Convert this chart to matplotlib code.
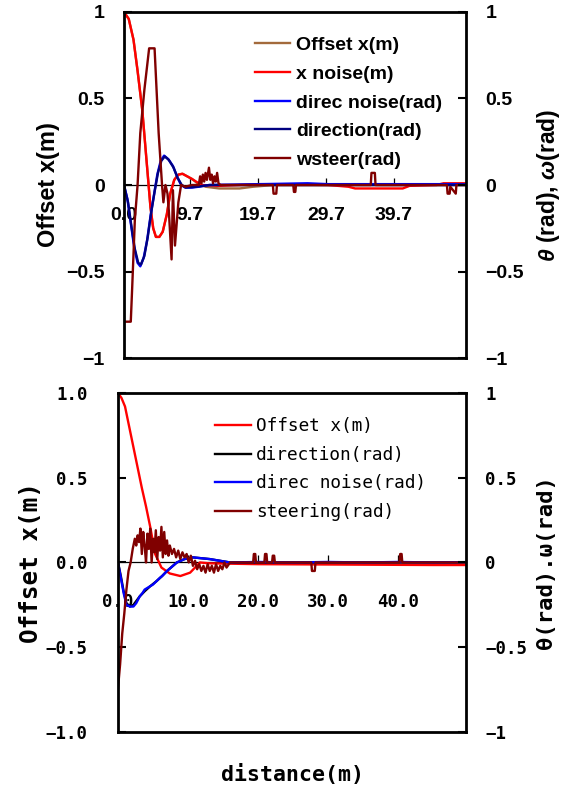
import matplotlib.pyplot as plt

plt.rcParams['mathtext.fontset'] = 'custom'
plt.rcParams['mathtext.it'] = 'Liberation Sans:italic:bold'
plt.rcParams['mathtext.rm'] = 'Liberation Sans:bold'

# ---------------- top chart data (distance in m, value) ----------------
top_xn_d = [0, 0.7, 1.4, 2.0, 2.7, 3.3, 3.9, 4.3, 4.7, 5.2, 5.7, 6.3, 6.8, 7.4, 8.0, 8.6, 9.3,
            10.0, 10.8, 11.5, 14, 20, 30, 33, 34, 41, 42, 46, 47, 50.3]
top_xn_v = [1.0, 0.96, 0.84, 0.66, 0.43, 0.15, -0.13, -0.25, -0.3, -0.3, -0.27, -0.17, -0.05,
            0.03, 0.06, 0.065, 0.05, 0.035, 0.015, 0.0, -0.005, 0.005, 0.0, -0.01, -0.02, -0.02,
            -0.005, 0.0, 0.01, 0.01]

top_off_d = [0, 0.7, 1.4, 2.0, 2.7, 3.3, 3.9, 4.3, 4.7, 5.2, 5.7, 6.3, 6.8, 7.4, 8.0, 8.6, 9.3,
             10.0, 10.8, 12, 14, 17, 19, 22, 50.3]
top_off_v = [1.0, 0.96, 0.84, 0.66, 0.43, 0.15, -0.13, -0.25, -0.3, -0.3, -0.27, -0.17, -0.05,
             0.03, 0.06, 0.065, 0.05, 0.035, 0.01, -0.01, -0.02, -0.02, -0.01, 0.0, 0.0]

top_dn_d = [0, 0.5, 1.0, 1.5, 2.0, 2.4, 2.9, 3.4, 3.9, 4.4, 4.9, 5.4, 5.9, 6.5, 7.2, 7.8, 8.4,
            9.0, 10.0, 11.0, 12.5, 20, 27, 30, 50.3]
top_dn_v = [0.0, -0.08, -0.22, -0.36, -0.45, -0.47, -0.42, -0.32, -0.18, -0.06, 0.06, 0.14,
            0.17, 0.15, 0.11, 0.05, 0.0, -0.015, -0.015, -0.01, 0.0, 0.005, 0.01, 0.005, 0.005]

top_dir_d = [0, 0.6, 1.1, 1.6, 2.1, 2.5, 3.0, 3.5, 4.0, 4.5, 5.0, 5.5, 6.0, 6.6, 7.3, 7.9, 8.5,
             9.1, 10.1, 11.1, 12.6, 50.3]
top_dir_v = [0.0, -0.1, -0.24, -0.37, -0.45, -0.46, -0.41, -0.3, -0.16, -0.04, 0.07, 0.14,
             0.165, 0.145, 0.1, 0.04, 0.0, -0.015, -0.012, -0.008, 0.0, 0.0]

top_ws_d = [0, 1.0, 1.2, 1.6, 2.0, 2.4, 3.0, 3.7, 4.5, 5.1, 5.6, 5.8, 6.1, 6.4, 6.6, 7.0, 7.2,
            7.5, 8.0, 8.4, 9.0, 10.0, 11.0, 11.2, 11.4, 11.6, 11.8, 12.0, 12.2, 12.5, 12.7,
            12.9, 13.1, 13.3, 13.5, 13.7, 13.9, 14.2, 16, 21.9, 22.0, 22.4, 22.5, 24.9, 25.0,
            25.2, 25.3, 36.3, 36.4, 36.9, 37.0, 47.5, 47.6, 47.9, 48.0, 48.8, 48.9, 50.3]
top_ws_v = [-0.79, -0.79, -0.6, -0.2, 0.0, 0.3, 0.55, 0.79, 0.79, 0.3, 0.0, -0.1, 0.0, -0.05,
            -0.15, -0.43, -0.03, -0.35, -0.1, 0.0, -0.01, 0.0, 0.0, 0.05, 0.01, 0.06, 0.02,
            0.07, 0.03, 0.1, 0.03, 0.06, 0.01, 0.05, 0.02, 0.07, 0.01, 0.0, 0.0, 0.0, -0.05,
            -0.05, 0.0, 0.0, -0.04, -0.04, 0.0, 0.0, 0.07, 0.07, 0.0, 0.0, -0.05, -0.05, -0.01,
            -0.05, 0.0, 0.0]

top_xticks = [0.0, 9.7, 19.7, 29.7, 39.7]
top_ylabels_left = ['\u22121', '\u22120.5', '0', '0.5', '1']
top_ylabels_right = ['\u22121', '\u22120.5', '0', '0.5', '1']
yticks = [-1, -0.5, 0, 0.5, 1]

# ---------------- bottom chart data ----------------
bot_off_d = [0, 0.5, 1.0, 1.5, 2.2, 2.8, 3.4, 4.0, 4.6, 5.3, 6.2, 7.4, 8.9, 10.3, 11.7, 13, 20,
             30, 45, 49.7]
bot_off_v = [1.0, 0.97, 0.92, 0.82, 0.68, 0.56, 0.44, 0.33, 0.21, 0.05, -0.03, -0.065, -0.08,
             -0.06, 0.0, -0.005, -0.01, -0.012, -0.015, -0.015]

bot_dir_d = [0, 0.4, 0.8, 1.2, 1.7, 2.2, 3.1, 3.8, 4.6, 5.5, 6.3, 7.0, 7.7, 8.4, 9.5, 10.7,
             13.1, 16, 49.7]
bot_dir_v = [0.0, -0.08, -0.17, -0.24, -0.26, -0.25, -0.2, -0.17, -0.14, -0.11, -0.08, -0.05,
             -0.025, 0.0, 0.02, 0.03, 0.02, 0.0, 0.0]

bot_dn_d = [0, 0.4, 0.8, 1.2, 1.7, 2.2, 2.6, 3.1, 3.5, 3.8, 4.2, 4.6, 5.0, 5.5, 6.0, 6.3, 7.0,
            7.7, 8.4, 9.5, 10.7, 13.1, 16, 20, 25, 30, 35, 40, 45, 49.7]
bot_dn_v = [0.0, -0.09, -0.18, -0.25, -0.26, -0.26, -0.24, -0.2, -0.18, -0.16, -0.15, -0.14,
            -0.13, -0.11, -0.09, -0.08, -0.05, -0.025, 0.0, 0.02, 0.03, 0.02, 0.0, 0.003,
            0.0, 0.003, 0.0, 0.003, 0.0, 0.002]

bot_st_d = [0, 0.3, 0.6, 0.9, 1.2, 1.5, 1.8, 2.1, 2.4, 2.6, 2.8, 3.0, 3.2, 3.4, 3.6, 3.8, 4.0,
            4.2, 4.4, 4.6, 4.8, 5.0, 5.2, 5.4, 5.6, 5.8, 6.0, 6.2, 6.4, 6.6, 6.8, 7.0, 7.2,
            7.4, 7.7, 8.0, 8.3, 8.6, 8.9, 9.2, 9.5, 9.8, 10.1, 10.4, 10.7, 11.0, 11.3, 11.6,
            11.9, 12.2, 12.5, 12.8, 13.1, 13.4, 13.7, 14.0, 14.3, 14.6, 14.9, 15.2, 15.5, 16.0,
            19.3, 19.4, 19.6, 19.7, 20.9, 21.0, 21.2, 21.3, 22.0, 22.1, 22.3, 22.4, 27.6, 27.7,
            28.1, 28.2, 40.2, 40.3, 40.5, 40.6, 49.7]
bot_st_v = [-0.74, -0.6, -0.42, -0.3, -0.16, -0.05, 0.0, 0.08, 0.14, 0.1, 0.16, 0.12, 0.2,
            0.05, 0.18, 0.1, 0.0, 0.17, 0.08, 0.2, 0.0, 0.14, 0.06, 0.19, 0.02, 0.15, 0.07,
            0.21, 0.03, 0.18, 0.05, 0.13, 0.04, 0.1, 0.05, 0.08, 0.03, 0.07, 0.02, 0.06, 0.03,
            0.05, 0.0, 0.04, -0.02, 0.01, -0.04, -0.01, -0.05, -0.02, -0.06, -0.01, -0.05,
            -0.02, -0.06, -0.01, -0.05, -0.02, -0.04, 0.0, -0.03, 0.0, 0.0, 0.05, 0.05, 0.0,
            0.0, 0.05, 0.05, 0.0, 0.0, 0.04, 0.04, 0.0, 0.0, -0.05, -0.05, 0.0, 0.0, 0.05,
            0.05, 0.0, 0.0]

bot_xticks = [0, 10, 20, 30, 40]
bot_xlabels = ['0.0', '10.0', '20.0', '30.0', '40.0']
bot_ylabels_left = ['\u22121.0', '\u22120.5', '0.0', '0.5', '1.0']
bot_ylabels_right = ['\u22121', '\u22120.5', '0', '0.5', '1']

SANS = 'Liberation Sans'
MONO = 'DejaVu Sans Mono'
LW = 1.7

fig = plt.figure(figsize=(5.62, 7.94), dpi=100)


def frame(ax, ax2, xmax):
    ax.set_xlim(0, xmax)
    ax.set_ylim(-1, 1)
    ax2.set_ylim(-1, 1)
    ax.spines['bottom'].set_position(('data', 0))
    ax.spines['bottom'].set_linewidth(0.9)
    ax.spines['bottom'].set_zorder(1)
    ax.spines['top'].set_visible(False)
    ax.spines['right'].set_visible(False)
    ax.spines['left'].set_linewidth(2)
    ax2.spines['left'].set_visible(False)
    for s in ['top', 'right', 'bottom']:
        ax2.spines[s].set_linewidth(2)
    ax.tick_params(axis='x', direction='in', length=5, width=0.9)
    ax.tick_params(axis='y', direction='in', length=6, width=1.5)
    ax2.tick_params(axis='y', direction='in', length=6, width=1.5)


# ---------------- top ----------------
ax = fig.add_axes([0.2206, 0.5491, 0.6085, 0.4358])
ax2 = ax.twinx()
frame(ax, ax2, 50.3)
ax.plot(top_off_d, top_off_v, color='#a36a3c', lw=LW, label='Offset x(m)')
ax.plot(top_xn_d, top_xn_v, color='#ff0000', lw=LW, label='x noise(m)')
ax.plot(top_dn_d, top_dn_v, color='#0000ff', lw=LW, label='direc noise(rad)')
ax.plot(top_dir_d, top_dir_v, color='#000080', lw=LW, label='direction(rad)')
ax.plot(top_ws_d, top_ws_v, color='#800000', lw=LW, label='wsteer(rad)')

ax.set_xticks(top_xticks)
ax.set_xticklabels(['%.1f' % t for t in top_xticks], fontfamily=SANS, fontweight='bold',
                   fontsize=14)
ax.tick_params(axis='x', pad=16)
ax.set_yticks(yticks)
ax.set_yticklabels(top_ylabels_left, fontfamily=SANS, fontweight='bold', fontsize=14)
ax.tick_params(axis='y', pad=14)
ax2.set_yticks(yticks)
ax2.set_yticklabels(top_ylabels_right, fontfamily=SANS, fontweight='bold', fontsize=14)
ax2.tick_params(axis='y', pad=14)
ax.set_ylabel('Offset x(m)', fontfamily=SANS, fontweight='bold', fontsize=17, labelpad=4)
ax2.set_ylabel(r'$\theta$ (rad), $\omega$(rad)', fontfamily=SANS, fontweight='bold',
               fontsize=16.5, labelpad=8)
ax.legend(loc='upper left', bbox_to_anchor=(0.383, 0.929), frameon=False,
          borderpad=0, borderaxespad=0, handlelength=1.8, handletextpad=0.3,
          labelspacing=0.57, prop={'family': SANS, 'weight': 'bold', 'size': 14})

# ---------------- bottom ----------------
bx = fig.add_axes([0.21, 0.0781, 0.6192, 0.427])
bx2 = bx.twinx()
frame(bx, bx2, 49.7)
bx.plot(bot_off_d, bot_off_v, color='#ff0000', lw=LW, label='Offset x(m)')
bx.plot(bot_dir_d, bot_dir_v, color='#000000', lw=LW, label='direction(rad)')
bx.plot(bot_dn_d, bot_dn_v, color='#0000ff', lw=LW, label='direc noise(rad)')
bx.plot(bot_st_d, bot_st_v, color='#800000', lw=LW, label='steering(rad)')

bx.set_xticks(bot_xticks)
bx.set_xticklabels(bot_xlabels, fontfamily=MONO, fontweight='bold', fontsize=12.5)
bx.tick_params(axis='x', pad=22)
bx.set_yticks(yticks)
bx.set_yticklabels(bot_ylabels_left, fontfamily=MONO, fontweight='bold', fontsize=12.5)
bx.tick_params(axis='y', pad=22)
bx2.set_yticks(yticks)
bx2.set_yticklabels(bot_ylabels_right, fontfamily=MONO, fontweight='bold', fontsize=12.5)
bx2.tick_params(axis='y', pad=14)
bx.set_ylabel('Offset x(m)', fontfamily=MONO, fontweight='bold', fontsize=17.5, labelpad=2)
bx2.set_ylabel('\u03b8(rad).\u03c9(rad)', fontfamily=MONO, fontweight='bold', fontsize=16,
               labelpad=6)
bx.set_xlabel('distance(m)', fontfamily=MONO, fontweight='bold', fontsize=15.5)
bx.xaxis.set_label_coords(0.5, -0.095)
bx.legend(loc='upper left', bbox_to_anchor=(0.279, 0.928), frameon=False,
          borderpad=0, borderaxespad=0, handlelength=2.0, handletextpad=0.3,
          labelspacing=0.59, prop={'family': MONO, 'size': 12.8})

fig.savefig('out.png', dpi=100)
